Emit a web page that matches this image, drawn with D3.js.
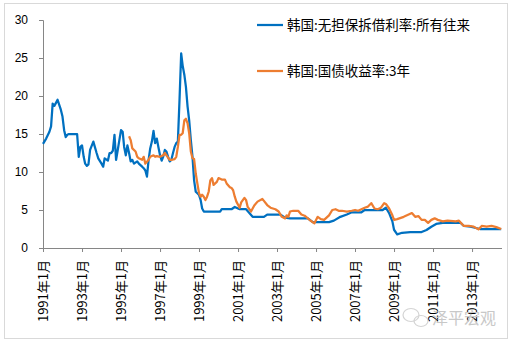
<!DOCTYPE html>
<html>
<head>
<meta charset="utf-8">
<script src="https://cdn.jsdelivr.net/npm/d3@7"></script>
<style>
html,body{margin:0;padding:0;background:#fff;}
svg{display:block;}
text{font-family:"Noto Sans CJK SC","Liberation Sans",sans-serif;}
</style>
</head>
<body>
<svg id="chart" width="514" height="343"></svg>
<script>
// ---- data ----
const seriesNames = ["韩国:无担保拆借利率:所有往来", "韩国:国债收益率:3年"];
const xTickLabels = ["1991年1月","1993年1月","1995年1月","1997年1月","1999年1月","2001年1月","2003年1月","2005年1月","2007年1月","2009年1月","2011年1月","2013年1月"];
const yTicks = [0, 5, 10, 15, 20, 25, 30];

// month index from 1991-01 (0 = 1991年1月)
const callMonths = [0,2,4,5,6,7,8,9,11,12,13,14,15,16,21,22,23,24,25,26,27,28,29,31,33,34,36,37,38,40,41,42,43,44,45,46,47,48,49,50,51,52,53,54,55,56,58,59,61,62,63,64,65,66,67,68,69,70,71,72,73,74,75,76,77,78,79,80,81,82,83,84,85,86,87,88,89,90,91,92,93,94,95,96,97,98,99,109,110,116,118,120,121,125,127,129,136,138,146,149,152,163,166,176,179,183,187,190,196,198,209,211,213,215,216,218,221,226,233,236,239,242,246,257,259,263,267,269,282];
const callRate = [13.7,14.4,15.3,16.0,19.0,18.7,19.1,19.5,18.2,17.3,15.5,14.6,14.9,15.0,15.0,12.0,13.3,13.5,12.0,11.1,10.8,11.0,12.9,14.0,12.5,11.8,11.1,10.7,11.8,11.5,12.5,12.5,12.8,14.9,11.6,12.9,14.2,15.5,15.3,13.3,12.2,13.5,12.5,11.4,11.6,11.1,11.4,11.1,10.7,10.5,10.2,9.4,11.6,13.1,14.0,15.4,13.8,14.4,13.3,12.2,11.5,12.0,12.9,12.7,12.0,11.4,11.6,12.5,13.3,13.8,14.0,19.5,25.6,24.0,22.8,21.2,18.6,16.8,14.2,12.0,8.9,7.4,7.2,7.0,6.3,5.2,4.8,4.8,5.1,5.1,5.4,5.2,5.1,5.1,4.6,4.1,4.1,4.4,4.4,4.0,3.9,3.9,3.4,3.4,3.6,4.1,4.4,4.7,4.7,5.0,5.0,5.3,4.6,3.5,2.4,1.8,2.0,2.1,2.1,2.37,2.8,3.16,3.3,3.3,2.9,2.8,2.6,2.5,2.5];

const bondMonths = [53,54,55,57,58,59,61,62,63,65,66,68,69,70,72,74,75,76,78,79,81,82,83,84,85,86,87,88,89,90,91,92,93,94,95,96,97,98,99,100,101,102,103,104,105,107,108,110,112,113,115,116,117,118,119,121,122,124,125,126,128,130,132,135,136,138,140,143,145,147,149,150,151,152,154,157,159,161,163,165,167,169,171,173,176,178,180,182,184,187,190,192,194,196,198,200,202,204,206,208,210,211,213,215,216,218,222,225,227,229,231,233,235,237,239,241,243,246,249,254,256,259,262,265,268,270,273,276,279,282];
const bondYield = [14.7,14.2,13.1,12.7,12.0,11.8,11.6,12.0,11.1,11.6,12.0,12.2,12.0,12.1,12.0,12.2,12.5,12.2,11.6,11.6,11.7,12.0,13.3,14.9,14.9,15.1,16.8,17.0,16.4,15.1,12.7,11.8,11.7,9.8,8.5,7.2,6.75,7.0,6.75,6.3,6.75,7.4,8.9,9.2,8.3,8.7,9.2,9.0,9.0,8.5,8.0,7.9,7.6,6.75,6.1,5.3,6.0,6.6,6.3,5.4,4.8,5.6,6.1,6.45,6.2,5.65,5.3,5.1,4.8,4.1,3.9,4.3,4.1,4.8,4.9,4.9,4.4,4.25,3.9,3.55,3.25,4.1,3.8,3.7,4.3,5.0,5.1,4.9,4.9,4.8,4.9,5.0,4.9,5.1,5.3,5.45,5.9,5.2,5.1,5.3,5.9,5.8,5.2,4.3,3.7,3.8,4.1,4.4,4.6,4.1,4.2,3.7,3.7,3.3,3.7,3.9,3.7,3.5,3.6,3.5,3.6,2.9,2.9,2.8,2.45,2.9,2.8,2.9,2.75,2.5];

const colors = ["#0070C0", "#ED7D31"];

// ---- chart ----
const svg = d3.select("#chart");
const m2d = m => new Date(1991 + Math.floor(m / 12), m % 12, 1);

const x = d3.scaleTime()
  .domain([new Date(1991, 0, 1), new Date(2014, 6, 16)])
  .range([43, 502]);
const y = d3.scaleLinear().domain([0, 30]).range([248, 20]);

// outer border
svg.append("rect").attr("x", 4.5).attr("y", 3.5).attr("width", 503).attr("height", 335)
  .attr("fill", "none").attr("stroke", "#d9d9d9").attr("stroke-width", 1);

// y axis
const yAxis = d3.axisLeft(y).tickValues(yTicks).tickSize(4).tickPadding(11);
const gy = svg.append("g").attr("transform", "translate(43,0)").call(yAxis);
gy.select(".domain").attr("stroke", "#868686");
gy.selectAll(".tick line").attr("stroke", "#868686");
gy.selectAll(".tick text").attr("fill", "#000").attr("font-size", 12)
  .style("font-family", "'Liberation Sans',Arial,sans-serif");

// x axis
const xTickDates = xTickLabels.map((s, i) => new Date(1991 + 2 * i, 0, 1));
const xAxis = d3.axisBottom(x).tickValues(xTickDates).tickSize(4)
  .tickFormat((d, i) => xTickLabels[i]);
const gx = svg.append("g").attr("transform", "translate(0,248)").call(xAxis);
gx.select(".domain").attr("stroke", "#868686").attr("d", "M43.5,0.5H502");
gx.selectAll(".tick line").attr("stroke", "#868686");
gx.selectAll(".tick text")
  .attr("fill", "#000").attr("font-size", 13)
  .attr("text-anchor", "end")
  .attr("transform", "rotate(-90)")
  .attr("x", -12).attr("y", 0).attr("dy", "0.35em")
  .style("font-family", "'Noto Sans CJK SC',sans-serif");

// lines
const line = d3.line().x(d => x(m2d(d[0]))).y(d => y(d[1]));
const callData = callMonths.map((m, i) => [m, callRate[i]]);
const bondData = bondMonths.map((m, i) => [m, bondYield[i]]);

svg.append("path").datum(callData).attr("d", line)
  .attr("fill", "none").attr("stroke", colors[0]).attr("stroke-width", 2.25).attr("stroke-linejoin", "round");
svg.append("path").datum(bondData).attr("d", line)
  .attr("fill", "none").attr("stroke", colors[1]).attr("stroke-width", 2.25).attr("stroke-linejoin", "round");

// legend
const legendY = [25, 71];
seriesNames.forEach((name, i) => {
  svg.append("line").attr("x1", 257).attr("x2", 283).attr("y1", legendY[i]).attr("y2", legendY[i])
    .attr("stroke", colors[i]).attr("stroke-width", 2.25);
  svg.append("text").attr("x", 287).attr("y", legendY[i]).attr("dy", "0.36em")
    .attr("font-size", 13.5).attr("fill", "#000").text(name);
});

// watermark
const wm = svg.append("g").attr("fill", "none").attr("stroke", "#d4d4d4").attr("stroke-width", 1.2);
wm.append("ellipse").attr("cx", 411).attr("cy", 315).attr("rx", 8).attr("ry", 6.5);
wm.append("ellipse").attr("cx", 421).attr("cy", 321).attr("rx", 7).attr("ry", 5.5);
svg.append("text").attr("x", 432).attr("y", 324).attr("font-size", 16)
  .attr("fill", "#c8c8c8").text("泽平宏观");
</script>
</body>
</html>
